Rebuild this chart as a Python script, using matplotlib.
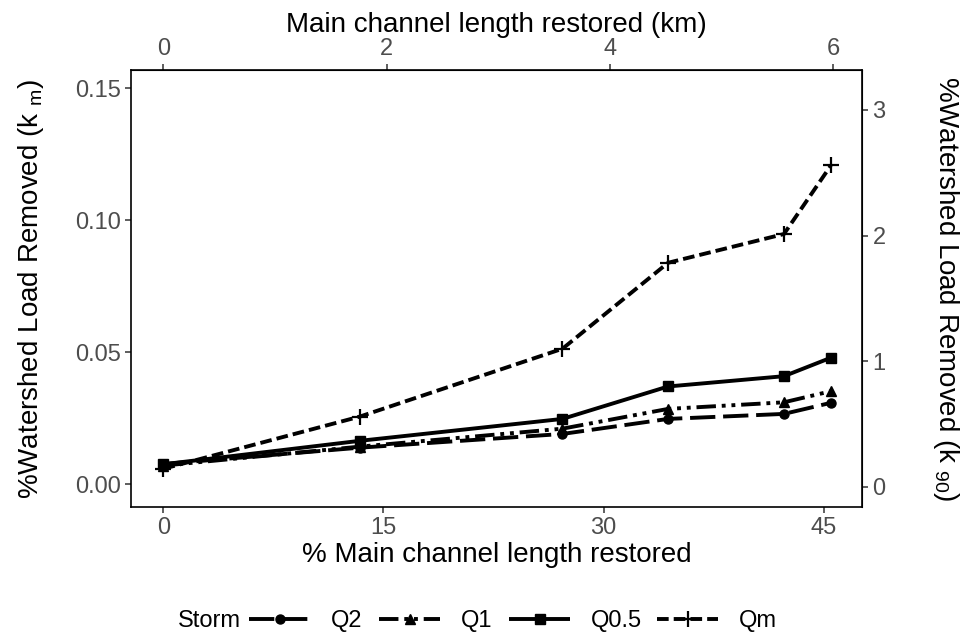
import matplotlib
matplotlib.use("Agg")
import matplotlib.pyplot as plt

plt.rcParams['font.family'] = ['Liberation Sans', 'DejaVu Sans']
plt.rcParams['mathtext.default'] = 'regular'

# % of main channel restored, and load removed per storm (k_m)
pct_restored = [0, 13.4, 27.2, 34.4, 42.3, 45.5]
storms = ['Q2', 'Q1', 'Q0.5', 'Qm']
q2 = [0.0076, 0.0138, 0.0190, 0.0247, 0.0266, 0.0308]
q1 = [0.0070, 0.0142, 0.0210, 0.0285, 0.0310, 0.0352]
q05 = [0.0075, 0.0164, 0.0247, 0.0370, 0.0409, 0.0479]
qm = [0.0058, 0.0256, 0.0513, 0.0839, 0.0948, 0.1208]

# axis conversions: % -> km and k_m -> k_90
PCT_PER_KM = 7.607
K90_SCALE = 21.0
K90_SHIFT = 0.001

x_ticks = [0, 15, 30, 45]
km_ticks = [0, 2, 4, 6]
y_ticks = [0.00, 0.05, 0.10, 0.15]
k90_ticks = [0, 1, 2, 3]

LW = 2.8
styles = {
    'Q2':   dict(marker='o', ms=6.5, dashes=(6.5, 2.0)),
    'Q1':   dict(marker='^', ms=7.5, dashes=(5, 1.5, 1, 1.5, 1, 1.5)),
    'Q0.5': dict(marker='s', ms=6.5, dashes=()),
    'Qm':   dict(marker='+', ms=11, mew=1.6, dashes=(3.0, 1.3)),
}

W, H = 965, 634
fig = plt.figure(figsize=(W / 100, H / 100), dpi=100)
ax = fig.add_axes([131 / W, 1 - 507 / H, (862 - 131) / W, (507 - 70) / H])

handles = []
for name, vals in zip(storms, [q2, q1, q05, qm]):
    st = dict(styles[name])
    dashes = st.pop('dashes')
    ls = '-' if not dashes else (0, dashes)
    h, = ax.plot(pct_restored, vals, color='black', lw=LW, ls=ls,
                 solid_capstyle='butt', dash_capstyle='butt',
                 mfc='black', mec='black', label=name, **st)
    handles.append(h)

ax.set_xlim(-2.21, 47.62)
ax.set_ylim(-0.0087, 0.157)
ax.set_xticks(x_ticks)
ax.set_yticks(y_ticks)
ax.set_yticklabels([f'{v:.2f}' for v in y_ticks])

tick_kw = dict(direction='out', length=4.5, width=1.1, color='#333333',
               labelcolor='#4D4D4D', labelsize=17, pad=3)
ax.tick_params(**tick_kw)
for s in ax.spines.values():
    s.set_linewidth(1.2)
    s.set_color('black')

secx = ax.secondary_xaxis('top', functions=(lambda p: p / PCT_PER_KM,
                                            lambda k: k * PCT_PER_KM))
secx.set_xticks(km_ticks)
secx.tick_params(**tick_kw)
secx.set_xlabel('Main channel length restored (km)', fontsize=20, labelpad=4)

secy = ax.secondary_yaxis('right', functions=(lambda v: (v + K90_SHIFT) * K90_SCALE,
                                              lambda k: k / K90_SCALE - K90_SHIFT))
secy.set_yticks(k90_ticks)
secy.tick_params(**tick_kw)
secy.set_ylabel('%Watershed Load Removed (k $_{90}$)', fontsize=20,
                rotation=270, labelpad=54)

ax.set_xlabel('% Main channel length restored', fontsize=20, labelpad=2)
ax.set_ylabel('%Watershed Load Removed (k $_{m}$)', fontsize=20, labelpad=21)

# legend row along the bottom: title, then one key per storm
legend_y = 1 - 621 / H
fig.text(178 / W, legend_y, 'Storm', fontsize=17, va='center')
for h, name, x0 in zip(handles, storms, [249, 379, 509, 657]):
    fig.legend([h], [name], loc='center left', bbox_to_anchor=(x0 / W, legend_y),
               frameon=False, fontsize=17, handlelength=2.6, handletextpad=0.85,
               borderpad=0, borderaxespad=0)

fig.savefig('out.png', dpi=100)
